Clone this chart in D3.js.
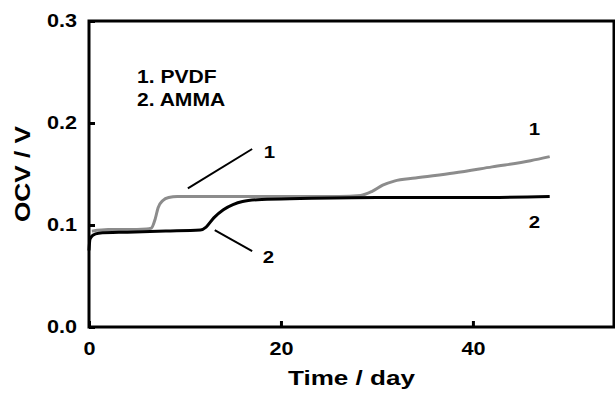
<!DOCTYPE html>
<html>
<head>
<meta charset="utf-8">
<script src="https://cdn.jsdelivr.net/npm/d3@7"></script>
<style>
  body { margin: 0; background: #fff; }
  svg { display: block; font-family: "Liberation Sans", Arial, sans-serif; }
</style>
</head>
<body>
<svg width="615" height="395"></svg>
<script>
// series 1 (PVDF, grey) and series 2 (AMMA, black): [day, OCV in V]
let pvdf = [
    [0.3, 0.094], [2, 0.0955], [4, 0.0955], [6, 0.096], [6.5, 0.097], [6.9, 0.106],
    [7.2, 0.117], [7.7, 0.124], [8.3, 0.127], [9.2, 0.128], [12, 0.128], [20, 0.128],
    [26, 0.128], [28.3, 0.129], [29.5, 0.133], [30.6, 0.139], [31.8, 0.143], [34, 0.146],
    [38, 0.151], [42, 0.157], [46, 0.163], [48, 0.167]
];
let amma = [
    [0, 0.075], [0.1, 0.086], [0.4, 0.090], [1, 0.092], [4, 0.093], [8, 0.094],
    [11.6, 0.095], [12.2, 0.098], [13, 0.107], [14, 0.115], [15, 0.120], [16, 0.123],
    [18, 0.125], [22, 0.126], [30, 0.127], [40, 0.127], [48, 0.128]
];
let xTicks = [0, 20, 40];
let yTicks = [0.0, 0.1, 0.2, 0.3];
let legendLines = ["1. PVDF", "2. AMMA"];

let svg = d3.select("svg");
let plot = { left: 89, top: 21, right: 614, bottom: 327 };

let x = d3.scaleLinear().domain([0, 54.7]).range([plot.left, plot.right]);
let y = d3.scaleLinear().domain([0, 0.3]).range([plot.bottom, plot.top]);

// the original lettering is a bit wider than Arial, so stretch it
function stretch(sel, k) {
    sel.each(function () {
        let w = this.getComputedTextLength();
        d3.select(this).attr("textLength", w * k).attr("lengthAdjust", "spacingAndGlyphs");
    });
}

let line = d3.line()
    .x(function (d) { return x(d[0]); })
    .y(function (d) { return y(d[1]); })
    .curve(d3.curveMonotoneX);

// curves
svg.append("path").datum(pvdf)
    .attr("d", line).attr("fill", "none")
    .attr("stroke", "#8c8c8c").attr("stroke-width", 3);
svg.append("path").datum(amma)
    .attr("d", line).attr("fill", "none")
    .attr("stroke", "#000").attr("stroke-width", 3);

// axes, ticks pointing inward
let xAxis = svg.append("g")
    .attr("transform", "translate(0," + plot.bottom + ")")
    .call(d3.axisBottom(x).tickValues(xTicks).tickFormat(d3.format("d"))
        .tickSizeInner(-6).tickSizeOuter(0).tickPadding(15));
let yAxis = svg.append("g")
    .attr("transform", "translate(" + plot.left + ",0)")
    .call(d3.axisLeft(y).tickValues(yTicks).tickFormat(d3.format(".1f"))
        .tickSizeInner(-6).tickSizeOuter(0).tickPadding(12));

[xAxis, yAxis].forEach(function (g) {
    g.select(".domain").remove();
    g.selectAll(".tick line").attr("stroke", "#000").attr("stroke-width", 3);
    g.selectAll(".tick text")
        .attr("fill", "#000")
        .style("font-size", "18px")
        .style("font-weight", "bold")
        .call(stretch, 1.2);
});

// frame
svg.append("rect")
    .attr("x", plot.left).attr("y", plot.top)
    .attr("width", plot.right - plot.left).attr("height", plot.bottom - plot.top)
    .attr("fill", "none").attr("stroke", "#000").attr("stroke-width", 3);

// axis titles
svg.append("text")
    .attr("x", (plot.left + plot.right) / 2).attr("y", 385)
    .attr("text-anchor", "middle")
    .style("font-size", "21px").style("font-weight", "bold")
    .text("Time / day")
    .call(stretch, 1.24);
svg.append("text")
    .attr("transform", "translate(30," + (plot.top + plot.bottom) / 2 + ") rotate(-90)")
    .attr("text-anchor", "middle")
    .style("font-size", "22px").style("font-weight", "bold")
    .text("OCV / V")
    .call(stretch, 1.19);

// legend
svg.selectAll(".legend").data(legendLines).enter()
    .append("text")
    .attr("class", "legend")
    .attr("x", 137)
    .attr("y", function (d, i) { return 83 + i * 23; })
    .style("font-size", "18px").style("font-weight", "bold")
    .text(function (d) { return d; })
    .call(stretch, 1.17);

// curve labels with leader lines
let leaders = [
    { from: [10.3, 0.136], to: [17.0, 0.1745], label: "1", at: [18.8, 0.166] },
    { from: [13.1, 0.095], to: [17.0, 0.0745], label: "2", at: [18.7, 0.063] }
];
leaders.forEach(function (l) {
    svg.append("line")
        .attr("x1", x(l.from[0])).attr("y1", y(l.from[1]))
        .attr("x2", x(l.to[0])).attr("y2", y(l.to[1]))
        .attr("stroke", "#000").attr("stroke-width", 2);
    svg.append("text")
        .attr("x", x(l.at[0])).attr("y", y(l.at[1]))
        .attr("text-anchor", "middle")
        .style("font-size", "17px").style("font-weight", "bold")
        .text(l.label)
        .call(stretch, 1.2);
});
let endLabels = [
    { label: "1", at: [46.4, 0.188] },
    { label: "2", at: [46.4, 0.097] }
];
endLabels.forEach(function (l) {
    svg.append("text")
        .attr("x", x(l.at[0])).attr("y", y(l.at[1]))
        .attr("text-anchor", "middle")
        .style("font-size", "17px").style("font-weight", "bold")
        .text(l.label)
        .call(stretch, 1.2);
});
</script>
</body>
</html>
